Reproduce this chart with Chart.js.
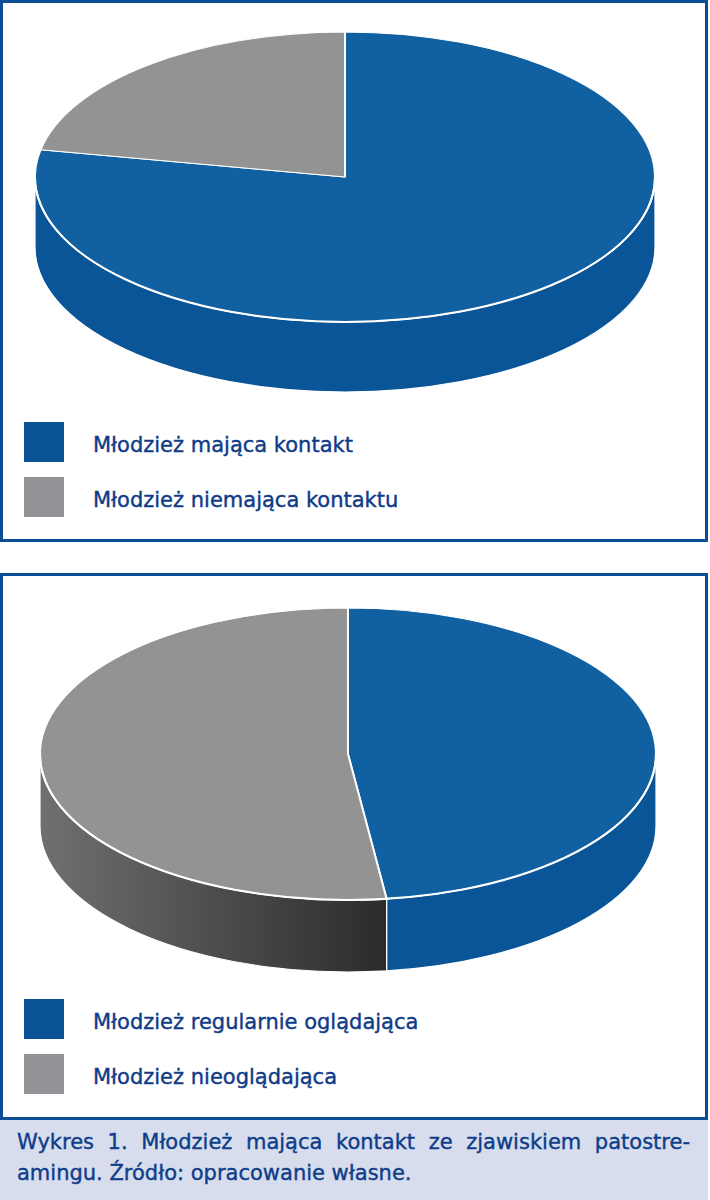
<!DOCTYPE html>
<html lang="pl">
  <head>
    <meta charset="UTF-8" />
    <title>Wykres 1. Młodzież mająca kontakt ze zjawiskiem patostreamingu</title>
    <script src="https://cdn.jsdelivr.net/npm/chart.js"></script>
    <style>
      body {
        margin: 0;
        width: 710px;
        height: 1200px;
        position: relative;
        background: #fff;
        font-family: "DejaVu Sans", sans-serif;
        color: #0f3b88;
      }
      .panel {
        position: absolute;
        left: 0;
        width: 708px;
        box-sizing: border-box;
        border: 3px solid #0b4e97;
      }
      canvas {
        position: absolute;
        left: 0;
      }
      .legend {
        position: absolute;
        left: 24px;
      }
      .item {
        display: flex;
        align-items: center;
        height: 40px;
        margin-bottom: 15px;
      }
      .box {
        width: 40px;
        height: 40px;
      }
      .label {
        margin-left: 29px;
        font-size: 21px;
        line-height: 40px;
        position: relative;
        top: 3px;
        -webkit-text-stroke: 0.4px currentColor;
      }
      .caption {
        position: absolute;
        top: 1120px;
        left: 0;
        width: 708px;
        height: 80px;
        box-sizing: border-box;
        padding: 7px 18px 0 17px;
        background: #d8ddee;
        font-size: 21px;
        line-height: 31px;
        color: #0e3d8a;
        -webkit-text-stroke: 0.4px currentColor;
      }
      .caption .first {
        white-space: nowrap;
        text-align: justify;
        text-align-last: justify;
      }
    </style>
  </head>
  <body>
    <div class="panel" style="top: 0; height: 542px"></div>
    <div class="panel" style="top: 573px; height: 547px"></div>

    <canvas id="contactChart" width="708" height="410" style="top: 0"></canvas>
    <canvas id="watchChart" width="708" height="420" style="top: 573px"></canvas>

    <div class="legend" id="contactLegend" style="top: 422px"></div>
    <div class="legend" id="watchLegend" style="top: 999px"></div>

    <div class="caption">
      <div class="first">Wykres 1. Młodzież mająca kontakt ze zjawiskiem patostre-</div>
      <div>amingu. Źródło: opracowanie własne.</div>
    </div>

    <script>
      // data (percent)
      const contactLabels = ["Młodzież mająca kontakt", "Młodzież niemająca kontaktu"];
      const contactValues = [78, 22];

      const watchLabels = ["Młodzież regularnie oglądająca", "Młodzież nieoglądająca"];
      const watchValues = [48, 52];

      // colours
      const topColors = ["#1160a2", "#939393"];
      const legendColors = ["#0a5396", "#929396"];

      // draws the pie flattened into an ellipse with a side wall under it
      const tiltPlugin = {
        id: "tilt",
        beforeDatasetsDraw(chart, args, opts) {
          const ctx = chart.ctx;
          const arcs = chart.getDatasetMeta(0).data;
          const { x, y, outerRadius: r } = arcs[0].getProps(["x", "y", "outerRadius"], true);
          const ry = r * opts.ratio;

          arcs.forEach((arc, i) => {
            const { startAngle, endAngle } = arc.getProps(["startAngle", "endAngle"], true);
            const a1 = Math.max(startAngle, 0);
            const a2 = Math.min(endAngle, Math.PI);
            if (a2 <= a1) return;

            let fill = opts.sides[i];
            if (Array.isArray(fill)) {
              const g = ctx.createLinearGradient(x + r * Math.cos(a2), 0, x + r * Math.cos(a1), 0);
              g.addColorStop(0, fill[0]);
              g.addColorStop(1, fill[1]);
              fill = g;
            }
            ctx.beginPath();
            ctx.ellipse(x, y, r, ry, 0, a1, a2);
            ctx.ellipse(x, y + opts.depth, r, ry, 0, a2, a1, true);
            ctx.closePath();
            ctx.fillStyle = fill;
            ctx.fill();
            ctx.strokeStyle = "#ffffff";
            ctx.lineWidth = 1.2;
            ctx.stroke();
          });

          ctx.save();
          ctx.translate(0, y);
          ctx.scale(1, opts.ratio);
          ctx.translate(0, -y);
        },
        afterDatasetsDraw(chart, args, opts) {
          const ctx = chart.ctx;
          ctx.restore();
          const { x, y, outerRadius: r } = chart.getDatasetMeta(0).data[0].getProps(["x", "y", "outerRadius"], true);
          // white rim between top face and side
          ctx.beginPath();
          ctx.ellipse(x, y, r, r * opts.ratio, 0, 0, Math.PI);
          ctx.strokeStyle = "#ffffff";
          ctx.lineWidth = 2;
          ctx.stroke();
        },
      };

      function drawPie(id, labels, values, radius, padding, tilt) {
        const ctx = document.getElementById(id).getContext("2d");
        return new Chart(ctx, {
          type: "pie",
          data: {
            labels: labels,
            datasets: [
              {
                data: values,
                backgroundColor: topColors,
                borderColor: "#ffffff",
                borderWidth: 2,
                radius: radius,
                clip: false,
              },
            ],
          },
          options: {
            responsive: false,
            animation: false,
            events: [],
            layout: { padding: padding },
            plugins: {
              legend: { display: false },
              tooltip: { enabled: false },
              tilt: tilt,
            },
          },
          plugins: [tiltPlugin],
        });
      }

      function drawLegend(id, labels) {
        const el = document.getElementById(id);
        labels.forEach((text, i) => {
          const item = document.createElement("div");
          item.className = "item";
          const box = document.createElement("div");
          box.className = "box";
          box.style.background = legendColors[i];
          const label = document.createElement("div");
          label.className = "label";
          label.textContent = text;
          item.appendChild(box);
          item.appendChild(label);
          el.appendChild(item);
        });
      }

      drawPie("contactChart", contactLabels, contactValues, 310, { right: 18, bottom: 56 }, {
        ratio: 145 / 310,
        depth: 70,
        sides: ["#0a5597", "#0a5597"],
      });

      drawPie("watchChart", watchLabels, watchValues, 308, { right: 12, bottom: 58 }, {
        ratio: 146 / 308,
        depth: 72,
        sides: ["#0a5597", ["#707070", "#2b2b2b"]],
      });

      drawLegend("contactLegend", contactLabels);
      drawLegend("watchLegend", watchLabels);
    </script>
  </body>
</html>
